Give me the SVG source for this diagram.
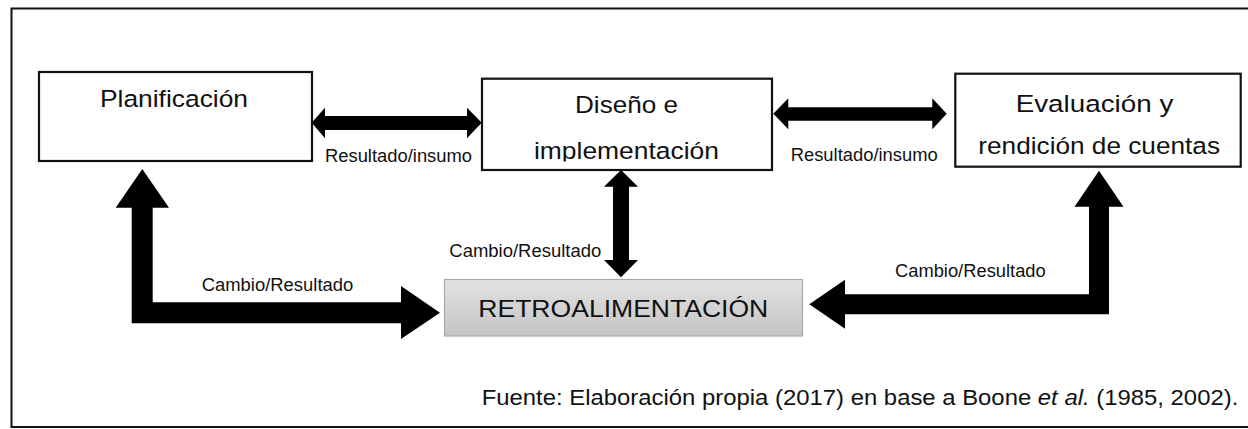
<svg xmlns="http://www.w3.org/2000/svg" width="1248" height="429" viewBox="0 0 1248 429">
<style>
text{font-family:"Liberation Sans",Arial,sans-serif;fill:#111}
.big{font-size:24.5px}
.sm{font-size:17.5px}
.box{fill:#fff;stroke:#111;stroke-width:2.2}
.arr{fill:#000}
</style>
<defs>
<linearGradient id="g" x1="0" y1="0" x2="0" y2="1">
<stop offset="0" stop-color="#e2e2e2"/>
<stop offset="1" stop-color="#c4c4c4"/>
</linearGradient>
<clipPath id="cd"><rect x="482" y="78" width="290" height="83.5"/></clipPath>
</defs>
<rect x="11.5" y="8.5" width="1240" height="418.5" fill="#fff" stroke="#111" stroke-width="2"/>
<g id="connectors">
<path class="arr" d="M311.7,122.8 L325,107.7 L325,116 L467,116 L467,107.7 L481.7,122.8 L467,138.3 L467,130 L325,130 L325,138.3 Z"/>
<path class="arr" d="M773.3,113.8 L788.3,98.3 L788.3,107.3 L932.3,107.3 L932.3,98.3 L946.7,113.8 L932.3,129.3 L932.3,120.7 L788.3,120.7 L788.3,129.3 Z"/>
<path class="arr" d="M621,170 L638,186.7 L629,186.7 L629,260 L638,260 L621,277.3 L604,260 L613,260 L613,186.7 L604,186.7 Z"/>
<path class="arr" d="M142.3,169 L169,207.7 L152.7,207.7 L152.7,302.3 L401,302.3 L401,286 L440,312.7 L401,339 L401,323.3 L131.7,323.3 L131.7,207.7 L115.7,207.7 Z"/>
<path class="arr" d="M1099,170.7 L1123.5,206.7 L1109,206.7 L1109,314.3 L845,314.3 L845,328.8 L809.3,304.3 L845,279.8 L845,294.3 L1089,294.3 L1089,206.7 L1074.5,206.7 Z"/>
<text class="sm" x="325" y="161.7" textLength="147" lengthAdjust="spacingAndGlyphs">Resultado/insumo</text>
<text class="sm" x="790.7" y="161" textLength="147" lengthAdjust="spacingAndGlyphs">Resultado/insumo</text>
<text class="sm" x="449.3" y="256.7" textLength="152" lengthAdjust="spacingAndGlyphs">Cambio/Resultado</text>
<text class="sm" x="201.7" y="291" textLength="151.6" lengthAdjust="spacingAndGlyphs">Cambio/Resultado</text>
<text class="sm" x="895" y="276.7" textLength="150.7" lengthAdjust="spacingAndGlyphs">Cambio/Resultado</text>
</g>
<g id="planificacion">
<rect class="box" x="39" y="72" width="273" height="89"/>
<text class="big" x="100" y="107.3" textLength="148" lengthAdjust="spacingAndGlyphs">Planificación</text>
</g>
<g id="diseno">
<rect class="box" x="482" y="78.7" width="290" height="91.3"/>
<text class="big" x="575" y="113.3" textLength="103" lengthAdjust="spacingAndGlyphs">Diseño e</text>
<text class="big" x="534" y="158.5" textLength="185" lengthAdjust="spacingAndGlyphs" clip-path="url(#cd)">implementación</text>
</g>
<g id="evaluacion">
<rect class="box" x="955.3" y="73.7" width="285.4" height="93"/>
<text class="big" x="1015.7" y="112.3" textLength="157.6" lengthAdjust="spacingAndGlyphs">Evaluación y</text>
<text class="big" x="978.3" y="154.3" textLength="241.7" lengthAdjust="spacingAndGlyphs">rendición de cuentas</text>
</g>
<g id="retroalimentacion">
<rect x="444.5" y="279.5" width="358" height="56.5" fill="url(#g)" stroke="#a8a8a8" stroke-width="1.2"/>
<text class="big" x="478.3" y="316.7" textLength="290" lengthAdjust="spacingAndGlyphs">RETROALIMENTACIÓN</text>
</g>
<g id="fuente">
<text style="font-size:21.5px" x="481.7" y="405" textLength="756.6" lengthAdjust="spacingAndGlyphs">Fuente: Elaboración propia (2017) en base a Boone <tspan font-style="italic">et al.</tspan> (1985, 2002).</text>
</g>
</svg>
